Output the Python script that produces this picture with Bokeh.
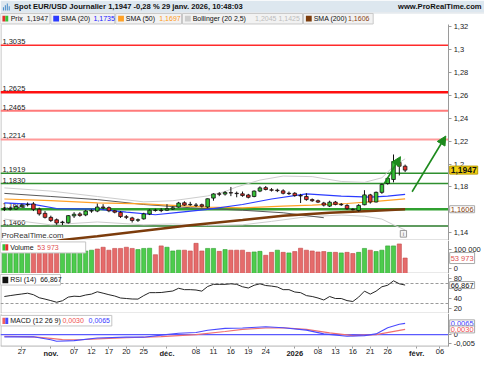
import datetime as dt
from bokeh.plotting import figure
from bokeh.layouts import column
from bokeh.models import (Range1d, FixedTicker, CustomJSTickFormatter, Label, Arrow,
                          NormalHead, ColumnDataSource, LinearAxis)
from bokeh.core.properties import value
from bokeh.embed import file_html
from bokeh.resources import INLINE

FONT = "Liberation Sans"

# ---------------- data ----------------
first_day = "2025-10-22"
holidays = ["2025-12-25", "2026-01-01"]

opens = [1.1608, 1.1606, 1.1608, 1.1628, 1.1645, 1.1652, 1.1606, 1.1570, 1.1535, 1.1514,
         1.1490, 1.1488, 1.1548, 1.1565, 1.1556, 1.1590, 1.1590, 1.1625, 1.1620, 1.1592,
         1.1578, 1.1540, 1.1530, 1.1510, 1.1522, 1.1564, 1.1595, 1.1597, 1.1597, 1.1608,
         1.1625, 1.1662, 1.1645, 1.1642, 1.1645, 1.1625, 1.1703, 1.1740, 1.1738, 1.1750,
         1.1745, 1.1740, 1.1730, 1.1717, 1.1764, 1.1794, 1.1775, 1.1772, 1.1766, 1.1745,
         1.1745, 1.1725, 1.1717, 1.1690, 1.1680, 1.1660, 1.1633, 1.1668, 1.1648, 1.1639,
         1.1605, 1.1595, 1.1645, 1.1731, 1.1669, 1.1753, 1.1830, 1.1865, 1.2014, 1.1981]
highs = [1.1625, 1.1630, 1.1640, 1.1655, 1.1665, 1.1668, 1.1620, 1.1590, 1.1550, 1.1525,
         1.1505, 1.1555, 1.1580, 1.1580, 1.1600, 1.1605, 1.1655, 1.1650, 1.1630, 1.1600,
         1.1590, 1.1555, 1.1540, 1.1525, 1.1575, 1.1605, 1.1610, 1.1615, 1.1650, 1.1630,
         1.1670, 1.1675, 1.1670, 1.1660, 1.1655, 1.1700, 1.1745, 1.1755, 1.1765, 1.1800,
         1.1760, 1.1760, 1.1740, 1.1770, 1.1805, 1.1808, 1.1790, 1.1785, 1.1780, 1.1760,
         1.1755, 1.1740, 1.1745, 1.1700, 1.1690, 1.1670, 1.1680, 1.1678, 1.1660, 1.1650,
         1.1615, 1.1650, 1.1772, 1.1740, 1.1760, 1.1830, 1.1885, 1.2083, 1.2030, 1.1995]
lows = [1.1590, 1.1595, 1.1600, 1.1620, 1.1630, 1.1590, 1.1550, 1.1525, 1.1495, 1.1470,
        1.1468, 1.1480, 1.1530, 1.1540, 1.1545, 1.1575, 1.1580, 1.1605, 1.1580, 1.1570,
        1.1530, 1.1520, 1.1490, 1.1495, 1.1515, 1.1555, 1.1585, 1.1580, 1.1590, 1.1600,
        1.1620, 1.1635, 1.1635, 1.1625, 1.1620, 1.1615, 1.1680, 1.1720, 1.1725, 1.1720,
        1.1710, 1.1715, 1.1700, 1.1710, 1.1755, 1.1770, 1.1760, 1.1755, 1.1735, 1.1730,
        1.1715, 1.1660, 1.1680, 1.1670, 1.1660, 1.1630, 1.1625, 1.1640, 1.1635, 1.1600,
        1.1595, 1.1585, 1.1640, 1.1655, 1.1665, 1.1740, 1.1820, 1.1840, 1.1900, 1.1930]
closes = [1.1606, 1.1612, 1.1630, 1.1640, 1.1648, 1.1606, 1.1565, 1.1535, 1.1508, 1.1486,
          1.1494, 1.1550, 1.1562, 1.1552, 1.1590, 1.1594, 1.1625, 1.1618, 1.1592, 1.1580,
          1.1542, 1.1536, 1.1508, 1.1514, 1.1565, 1.1597, 1.1598, 1.1594, 1.1610, 1.1618,
          1.1660, 1.1642, 1.1648, 1.1640, 1.1632, 1.1697, 1.1739, 1.1737, 1.1752, 1.1748,
          1.1742, 1.1725, 1.1710, 1.1764, 1.1792, 1.1778, 1.1772, 1.1768, 1.1745, 1.1742,
          1.1725, 1.1722, 1.1690, 1.1680, 1.1668, 1.1642, 1.1667, 1.1648, 1.1645, 1.1611,
          1.1602, 1.1639, 1.1731, 1.1669, 1.1753, 1.1822, 1.1875, 1.2022, 1.1981, 1.1947]

volumes = [97000, 90000, 97000, 97000, 97000, 97000, 97000, 85000, 94000, 97000,
           97000, 97000, 97000, 94000, 90000, 94000, 100000, 109000, 94000, 103000,
           103000, 109000, 103000, 97000, 103000, 104000, 71000, 116000, 109000, 90000,
           94000, 94000, 90000, 129000, 90000, 103000, 103000, 88000, 97000, 94000,
           94000, 94000, 83000, 85000, 88000, 68000, 83000, 94000, 83000, 80000,
           87000, 104000, 94000, 90000, 85000, 87000, 83000, 83000, 80000, 83000,
           77000, 83000, 103000, 94000, 87000, 94000, 116000, 116000, 126000, 53973]
volume_dir = ["G", "G", "G", "G", "G", "R", "R", "R", "R", "R",
              "G", "G", "G", "G", "G", "G", "R", "R", "R", "R",
              "R", "R", "R", "G", "G", "G", "R", "R", "G", "G",
              "G", "R", "R", "R", "R", "G", "G", "R", "G", "R",
              "R", "R", "R", "G", "G", "R", "R", "G", "R", "G",
              "R", "R", "R", "R", "R", "R", "G", "R", "G", "R",
              "R", "G", "G", "R", "G", "G", "G", "G", "R", "R"]

rsi = [44.0, 45.8, 47.5, 49.0, 50.6, 47.6, 41.5, 38.8, 35.8, 32.5,
       35.5, 42.8, 44.6, 44.0, 47.0, 48.8, 53.5, 50.6, 47.6, 45.0,
       41.0, 40.0, 39.0, 38.8, 45.8, 51.7, 51.7, 52.0, 53.5, 55.0,
       60.5, 57.7, 57.7, 57.0, 54.7, 64.0, 68.3, 68.3, 68.3, 69.4,
       68.3, 63.5, 61.0, 66.5, 69.4, 66.0, 64.8, 63.0, 57.7, 57.7,
       53.0, 51.7, 45.8, 44.0, 41.0, 37.0, 44.0, 40.0, 40.0, 35.8,
       34.0, 42.8, 54.7, 48.8, 54.7, 63.5, 66.5, 75.4, 69.4, 66.867]

# indicator lines read at selected bar positions (0 = first bar)
sma20_pos = [0, 5, 9, 16, 21, 26, 30, 35, 41, 46, 52, 58, 63, 66, 69]
sma20_val = [1.1662, 1.1648, 1.1612, 1.1606, 1.1580, 1.1558, 1.1578, 1.1604, 1.1647,
             1.1695, 1.1740, 1.1720, 1.1712, 1.1720, 1.1735]
sma50_pos = [0, 8, 16, 24, 35, 41, 48, 53, 59, 64, 69]
sma50_val = [1.1695, 1.1681, 1.1661, 1.1653, 1.1625, 1.1617, 1.1633, 1.1642, 1.1656,
             1.1675, 1.1697]
boll_up_pos = [0, 8, 16, 24, 29, 35, 38, 40, 44, 48, 53, 58, 62, 65, 67, 69]
boll_up_val = [1.1792, 1.1764, 1.1717, 1.1670, 1.1680, 1.1722, 1.1760, 1.1800, 1.1860,
               1.1895, 1.1890, 1.1848, 1.1840, 1.1880, 1.1980, 1.2045]
boll_lo_pos = [0, 8, 16, 24, 29, 35, 41, 46, 52, 58, 62, 65, 67, 69]
boll_lo_val = [1.1520, 1.1470, 1.1495, 1.1470, 1.1478, 1.1465, 1.1470, 1.1500, 1.1540,
               1.1555, 1.1545, 1.1520, 1.1470, 1.1425]
ma_grey_pos = [0, 8, 16, 24, 32, 41, 48, 55]
ma_grey_val = [1.1744, 1.1717, 1.1690, 1.1647, 1.1619, 1.1597, 1.1575, 1.1532]
sma200_pos = [7, 10, 16, 24, 32, 41, 48, 56, 63, 69]
sma200_val = [1.1310, 1.1338, 1.1371, 1.1419, 1.1467, 1.1513, 1.1550, 1.1575, 1.1590, 1.1606]

macd_pos = [0, 5, 8, 9, 12, 16, 21, 24, 27, 30, 33, 35, 38, 41, 45, 48, 52, 55, 59, 62, 64, 66, 68, 69]
macd_val = [-0.0013, -0.0013, -0.0030, -0.0039, -0.0035, -0.0020, -0.0015, -0.0015, -0.0003,
            0.0008, 0.0012, 0.0025, 0.0036, 0.0038, 0.0045, 0.0040, 0.0026, 0.0004, -0.0010,
            -0.0006, 0.0004, 0.0040, 0.0060, 0.0065]
signal_pos = [0, 5, 8, 10, 13, 16, 21, 27, 33, 38, 41, 45, 48, 52, 56, 60, 64, 69]
signal_val = [-0.0010, -0.0013, -0.0022, -0.0029, -0.0030, -0.0025, -0.0018, -0.0012, 0.0,
              0.0018, 0.0030, 0.0038, 0.0040, 0.0030, 0.0010, -0.0006, 0.0, 0.0030]

levels = [1.3035, 1.2625, 1.2465, 1.2214, 1.1919, 1.1830, 1.1606, 1.1460]
level_colors = ["#ff2a2a", "#ff1010", "#ff7a7a", "#ff9a9a", "#2f8f2f", "#2f8f2f", "#30a030", "#2a7a2a"]
level_widths = [1.5, 2.5, 2.0, 2.0, 1.5, 1.5, 2.5, 1.5]

arrow_x0 = [65.4, 70.2]
arrow_y0 = [1.1828, 1.1758]
arrow_x1 = [68.2, 76.0]
arrow_y1 = [1.2064, 1.2244]

tick_dates = ["2025-10-27", "2025-11-03", "2025-11-07", "2025-11-12", "2025-11-17",
              "2025-11-20", "2025-11-25", "2025-12-01", "2025-12-08", "2025-12-11",
              "2025-12-16", "2025-12-19", "2025-12-24", "2026-01-02", "2026-01-08",
              "2026-01-13", "2026-01-16", "2026-01-21", "2026-01-26", "2026-02-02",
              "2026-02-06"]
tick_labels = ["27", "nov.", "07", "12", "17", "20", "25", "déc.", "08", "11", "16", "19",
               "24", "2026", "08", "13", "16", "21", "26", "févr.", "06"]
period_labels = ["nov.", "déc.", "2026", "févr."]

title_text = "Spot EUR/USD Journalier 1,1947 -0,28 % 29 janv. 2026, 10:48:03"
legend_names = ["Prix", "SMA (20)", "SMA (50)", "Bollinger (20 2,5)", "SMA (200)"]
legend_values = ["1,1947", "1,1735", "1,1697", "1,2045 1,1425", "1,1606"]

# ---------------- helpers ----------------
def fr(v, d=4):
    return f"{v:.{d}f}".replace(".", ",")

closed = {dt.date.fromisoformat(s) for s in holidays}
cal = []
d = dt.date.fromisoformat(first_day)
while len(cal) < 85:
    if d.weekday() < 5 and d not in closed:
        cal.append(d.isoformat())
    d += dt.timedelta(days=1)
tick_pos = [cal.index(s) for s in tick_dates]

N = len(closes)
pos = list(range(N))
GREEN, RED = "#36c236", "#e3312c"
BLUE, ORANGE, BGREY, BROWN = "#2b3bff", "#ffa126", "#cdcdcd", "#7c3c0c"
FW = 484
AX_X = 76.5                     # where the price scale sits
xr = Range1d(-0.667, 82.667)    # plot area + scale strip
SEP = "#b4b4b4"


def style(ax):
    ax.major_label_text_font = FONT
    ax.major_label_text_font_size = "7.5px"
    ax.major_label_text_color = "#222222"
    ax.axis_line_color = "#9a9a9a"
    ax.major_tick_line_color = "#9a9a9a"
    ax.major_tick_out = 3
    ax.major_tick_in = 0
    ax.minor_tick_line_color = None
    ax.major_label_standoff = 2


def panel(h, y0, y1, ref_top, ref_bot, border_top=None, border_bot=None):
    f = figure(frame_width=FW, frame_height=h, x_range=xr, y_range=Range1d(y0, y1),
               y_axis_location=None, x_axis_location=None,
               toolbar_location=None, output_backend="svg", min_border=0,
               background_fill_color="white", border_fill_color="white")
    f.outline_line_color = None
    f.grid.visible = False
    f.extra_x_ranges = {"px": Range1d(0, 500)}
    f.extra_y_ranges = {"py": Range1d(ref_bot, ref_top)}
    yax = LinearAxis(fixed_location=AX_X)
    style(yax)
    f.add_layout(yax, "right")
    f.segment(x0=[0.5], x1=[0.5], y0=[border_top or ref_top], y1=[border_bot or ref_bot],
              line_color=SEP, x_range_name="px", y_range_name="py")
    return f, yax


def txt(f, x, y, s, color="#111111", size="7px", bold=False, align="left",
        baseline="middle", xr_name="px", yr_name="py", yoff=0):
    f.text(x=[x], y=[y], text=[s], x_range_name=xr_name, y_range_name=yr_name,
           text_font=value(FONT), text_font_size=size,
           text_font_style="bold" if bold else "normal", text_color=color,
           text_align=align, text_baseline=baseline, y_offset=yoff)


def box(f, l, r, t, b, fill="white", line="#c4c4c4"):
    f.quad(left=[l], right=[r], top=[t], bottom=[b], fill_color=fill, line_color=line,
           line_width=1, x_range_name="px", y_range_name="py")


def sep(f, yref):
    f.segment(x0=[0], x1=[463], y0=[yref], y1=[yref], line_color=SEP,
              x_range_name="px", y_range_name="py")


def hline(f, yv, color, width, dash="solid"):
    f.segment(x0=[xr.start], x1=[AX_X], y0=[yv], y1=[yv], line_color=color,
              line_width=width, line_dash=dash)


def right_label(f, yv, s, color, bg="white", border="#a8a8a8", bold=False, size="7.5px"):
    f.add_layout(Label(x=AX_X, y=yv, x_offset=1, text=s, text_font=FONT,
                       text_font_size=size, text_font_style="bold" if bold else "normal",
                       text_color=color, text_align="left", text_baseline="middle",
                       background_fill_color=bg, border_line_color=border, padding=1))

# ---------------- title bar ----------------
hd = figure(width=484, height=12, x_range=Range1d(0, 500), y_range=Range1d(12.5, 0),
            toolbar_location=None, output_backend="svg", min_border=0,
            x_axis_location=None, y_axis_location=None)
hd.outline_line_color = None
hd.grid.visible = False
hd.quad(left=[0], right=[500], top=[0], bottom=[12.5], fill_color="#dde7ef", line_color=None)
hd.quad(left=[2.5, 4.5, 6.5, 8.5], right=[3.5, 5.5, 7.5, 9.5], top=[7, 5, 3, 6],
        bottom=[10.5, 10.5, 10.5, 10.5], fill_color="#3d86c6", line_color=None)
hd.text(x=[14], y=[6.5], text=[title_text], text_font=value(FONT), text_font_size="7.6px",
        text_font_style="bold", text_color="#111111", text_baseline="middle")
hd.text(x=[497], y=[6.5], text=["www.ProRealTime.com"], text_font=value(FONT),
        text_font_size="7.6px", text_font_style="bold", text_color="#111111",
        text_baseline="middle", text_align="right")

# ---------------- price (with legend row) ----------------
p, pax = panel(228, 1.13333, 1.33208, 12.5, 251, border_top=25)
pax.ticker = FixedTicker(ticks=[1.14, 1.16, 1.18, 1.2, 1.22, 1.24, 1.26, 1.28, 1.3, 1.32])
pax.bounds = (1.13333, 1.32167)
pax.formatter = CustomJSTickFormatter(
    code="return String(Math.round(tick*100)/100).replace('.', ',');")
sep(p, 250.6)
p.segment(x0=[0], x1=[500], y0=[12.8], y1=[12.8], line_color="#b9c6d0",
          x_range_name="px", y_range_name="py")

item_l = [0, 52, 119, 188, 313]
item_r = [51, 118, 187, 312, 385]
value_x = [27, 96, 164, 263, 359]
value_col = ["#111111", "#1a1aff", "#ff9a1a", "#bdbdbd", "#8b4513"]
icon_col = [BLUE, ORANGE, BGREY, BROWN]
p.quad(left=item_l, right=item_r, top=[13.5] * 5, bottom=[24.5] * 5,
       fill_color="#f2f2f2", line_color="#c8c8c8", x_range_name="px", y_range_name="py")
p.quad(left=[2, 5], right=[5, 8], top=[16, 16], bottom=[22, 22],
       fill_color=[RED, GREEN], line_color=None, x_range_name="px", y_range_name="py")
p.quad(left=[l + 2.5 for l in item_l[1:]], right=[l + 8.5 for l in item_l[1:]],
       top=[16] * 4, bottom=[22] * 4, fill_color=icon_col, line_color=None,
       x_range_name="px", y_range_name="py")
p.text(x=[l + 10.5 for l in item_l], y=[19] * 5, text=legend_names, text_font=value(FONT),
       text_font_size="7px", text_color="#111111", text_baseline="middle",
       x_range_name="px", y_range_name="py")
p.text(x=value_x, y=[19] * 5, text=legend_values, text_font=value(FONT),
       text_font_size="7px", text_color=value_col, text_baseline="middle",
       x_range_name="px", y_range_name="py")

for lv, lc, lw in zip(levels, level_colors, level_widths):
    hline(p, lv, lc, lw)
    txt(p, 2, lv, fr(lv), color="#1a1a1a", size="7.5px", baseline="bottom",
        yr_name="default", yoff=-1)

p.line(boll_up_pos, boll_up_val, line_color=BGREY, line_width=1)
p.line(boll_lo_pos, boll_lo_val, line_color=BGREY, line_width=1)
p.line(ma_grey_pos, ma_grey_val, line_color="#5a5a5a", line_width=1)
p.line(sma50_pos, sma50_val, line_color=ORANGE, line_width=1.2)
p.line(sma20_pos, sma20_val, line_color=BLUE, line_width=1.2)
p.line(sma200_pos, sma200_val, line_color=BROWN, line_width=2.5)

src = ColumnDataSource(dict(
    x=pos, h=highs, l=lows,
    top=[max(a, b) for a, b in zip(opens, closes)],
    bot=[min(a, b) for a, b in zip(opens, closes)],
    col=[GREEN if c >= o else RED for o, c in zip(opens, closes)]))
p.segment(x0="x", y0="h", x1="x", y1="l", source=src, line_color="#111111", line_width=1)
p.vbar(x="x", width=0.62, top="top", bottom="bot", fill_color="col", line_color="#111111",
       line_width=0.8, source=src)

for x0, y0, x1, y1 in zip(arrow_x0, arrow_y0, arrow_x1, arrow_y1):
    p.add_layout(Arrow(x_start=x0, y_start=y0, x_end=x1, y_end=y1, line_color="#1d8a1d",
                       line_width=1.6, end=NormalHead(size=9, fill_color="#1d8a1d",
                                                      line_color="#1d8a1d")))

txt(p, 1, 245.5, "ProRealTime.com", color="#333333", size="7.8px")
box(p, 413, 419.5, 240.5, 247.5, fill="#f4f4f4", line="#9a9a9a")
txt(p, 416.2, 244, "i", color="#666666", size="6px", align="center")

right_label(p, closes[-1], fr(closes[-1]), "#111111", bg="#f2cf12", border="#b89a00",
            bold=True, size="8.5px")
right_label(p, sma200_val[-1], fr(sma200_val[-1]), "#8b4513")

# ---------------- volume ----------------
v, vax = panel(33, -25000, 143500, 251, 285.5)
vax.ticker = FixedTicker(ticks=[0, 100000])
vax.formatter = CustomJSTickFormatter(
    code=r"return String(tick).replace(/\B(?=(\d{3})+(?!\d))/g, ' ');")
sep(v, 285.2)
v.vbar(x=pos, top=volumes, bottom=-25000, width=0.72,
       fill_color=["#4dcc4d" if s == "G" else "#e56b6b" for s in volume_dir],
       line_color=["#2e9e2e" if s == "G" else "#c44848" for s in volume_dir], line_width=0.6)
box(v, 0, 88, 252.5, 264)
v.quad(left=[2, 5], right=[5, 8], top=[255, 255], bottom=[261.5, 261.5],
       fill_color=[GREEN, RED], line_color=None, x_range_name="px", y_range_name="py")
vol_txt = f"{volumes[-1]:,}".replace(",", " ")
txt(v, 10, 258.3, "Volume")
txt(v, 38, 258.3, vol_txt, color="#e05050")
right_label(v, volumes[-1], vol_txt, "#e05050")

# ---------------- RSI ----------------
r, rax = panel(40, 10, 90, 285.5, 327)
rax.ticker = FixedTicker(ticks=[20, 40, 60, 80])
sep(r, 326.7)
for lv in (70, 30):
    hline(r, lv, "#9a9a9a", 1, dash="3 2")
r.line(pos, rsi, line_color="#262626", line_width=1)
box(r, 0, 62, 286.5, 297.5)
r.quad(left=[2], right=[8], top=[289], bottom=[295.5], fill_color="#111111", line_color=None,
       x_range_name="px", y_range_name="py")
txt(r, 10, 292, "RSI (14)")
txt(r, 41, 292, fr(rsi[-1], 3))
right_label(r, rsi[-1], fr(rsi[-1], 3), "#111111")

# ---------------- MACD (+ time scale strip) ----------------
X_AT = -0.00667                 # value where the time scale is drawn
m, max_ = panel(46, -0.01444, 0.01222, 327, 375, border_bot=361)
max_.ticker = FixedTicker(ticks=[-0.005, 0])
max_.bounds = (X_AT, 0.01222)
max_.formatter = CustomJSTickFormatter(
    code="return tick === 0 ? '0' : tick.toFixed(3).replace('.', ',');")
day_ticks = [tp for tp, lab in zip(tick_pos, tick_labels) if lab not in period_labels]
per_ticks = [tp for tp, lab in zip(tick_pos, tick_labels) if lab in period_labels]
for ticks, bold in ((day_ticks, False), (per_ticks, True)):
    xa = LinearAxis(fixed_location=X_AT, ticker=FixedTicker(ticks=ticks),
                    major_label_overrides={tp: lab for tp, lab in zip(tick_pos, tick_labels)
                                           if tp in ticks})
    style(xa)
    xa.axis_line_color = None
    xa.major_tick_out = 2
    xa.major_label_standoff = 1
    if bold:
        xa.major_label_text_font_style = "bold"
    m.add_layout(xa, "below")
hline(m, X_AT, SEP, 1)
hline(m, 0, "#5a5aff", 1.3)
m.line(signal_pos, signal_val, line_color="#f07070", line_width=1.1)
m.line(macd_pos, macd_val, line_color="#4a4aff", line_width=1.1)
box(m, 0, 115, 329, 340)
m.quad(left=[2, 5], right=[5, 8], top=[331.5, 331.5], bottom=[338, 338],
       fill_color=["#f06060", "#4a4aff"], line_color=None, x_range_name="px", y_range_name="py")
txt(m, 10, 334.5, "MACD (12 26 9)")
txt(m, 64, 334.5, fr(signal_val[-1]), color="#f05050")
txt(m, 91, 334.5, fr(macd_val[-1]), color="#3a3aff")
right_label(m, macd_val[-1], fr(macd_val[-1]), "#3a3aff")
right_label(m, signal_val[-1], fr(signal_val[-1]), "#f05050")

layout = column(hd, p, v, r, m, spacing=0)
open("out.html", "w").write(file_html(layout, INLINE))
